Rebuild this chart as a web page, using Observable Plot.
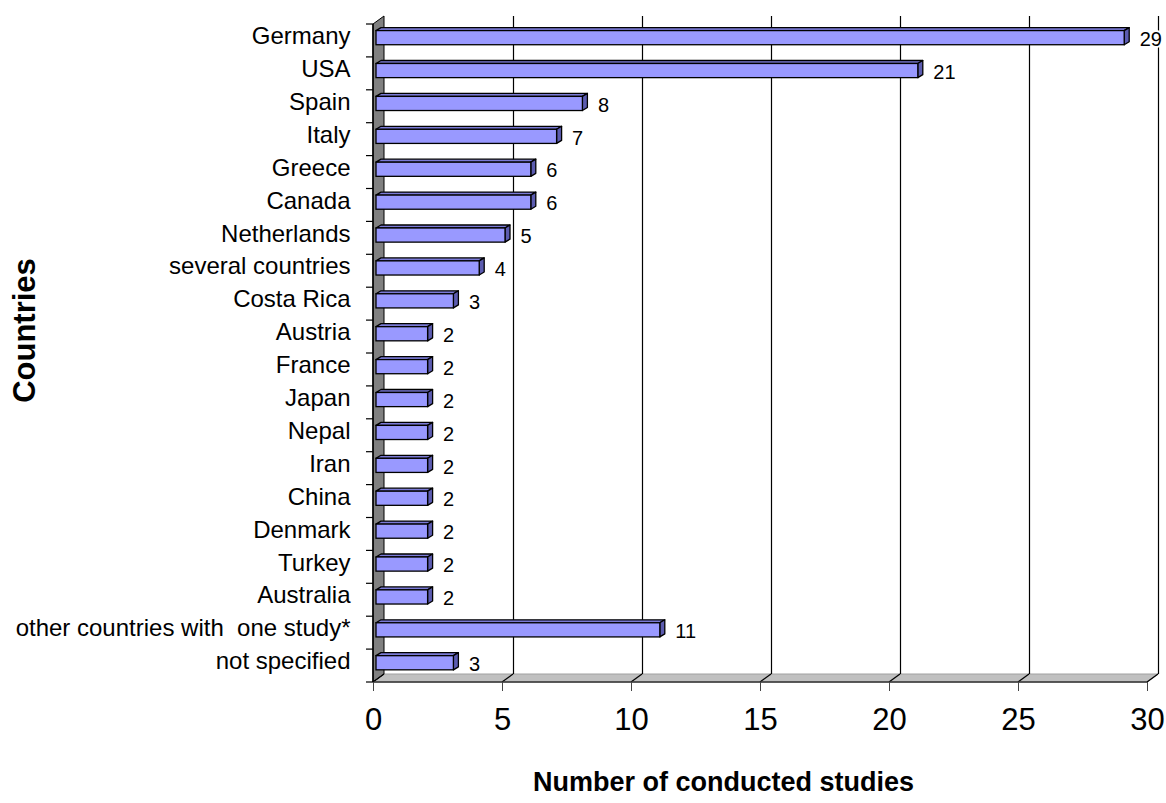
<!DOCTYPE html>
<html>
<head>
<meta charset="utf-8">
<script src="https://cdn.jsdelivr.net/npm/d3@7"></script>
<script src="https://cdn.jsdelivr.net/npm/@observablehq/plot@0.6"></script>
<style>
  html, body { margin: 0; padding: 0; background: #fff; }
  svg text { white-space: pre; }
</style>
</head>
<body>
<div id="chart"></div>
<script>
const countries = ["Germany","USA","Spain","Italy","Greece","Canada","Netherlands","several countries","Costa Rica","Austria","France","Japan","Nepal","Iran","China","Denmark","Turkey","Australia","other countries with  one study*","not specified"];
const studies = [29,21,8,7,6,6,5,4,3,2,2,2,2,2,2,2,2,2,11,3];
const xTicks = [0,5,10,15,20,25,30];
const xTitle = "Number of conducted studies";
const yTitle = "Countries";

const data = countries.map((c, i) => ({country: c, value: studies[i]}));

const FONT = "'Liberation Sans', Arial, Helvetica, sans-serif";
const WALL = {ox: 11, oy: -8};
const BAR = {ox: 5, oy: -3, shift: 3};

function walls(index, scales, values, dims) {
  const {x, y} = scales;
  const {height, marginTop, marginBottom} = dims;
  const X0 = x(0), X1 = x(xTicks[xTicks.length - 1]);
  const Yt = marginTop, Yb = height - marginBottom;
  const {ox, oy} = WALL;
  const g = d3.create("svg:g");
  // floor
  g.append("polygon")
    .attr("points", [[X0, Yb], [X1, Yb], [X1 + ox, Yb + oy], [X0 + ox, Yb + oy]].join(" "))
    .attr("fill", "#c0c0c0").attr("stroke", "#a0a0a0").attr("stroke-width", 1);
  // left wall
  g.append("polygon")
    .attr("points", [[X0, Yt], [X0 + ox, Yt + oy], [X0 + ox, Yb + oy], [X0, Yb]].join(" "))
    .attr("fill", "#808080").attr("stroke", "#000").attr("stroke-width", 1);
  // floor diagonals
  for (const t of xTicks) {
    g.append("line")
      .attr("x1", x(t)).attr("y1", Yb).attr("x2", x(t) + ox).attr("y2", Yb + oy)
      .attr("stroke", "#000").attr("stroke-width", 1.2);
  }
  // axis lines
  g.append("line").attr("x1", X0).attr("x2", X1).attr("y1", Yb).attr("y2", Yb)
    .attr("stroke", "#333").attr("stroke-width", 1.5);
  g.append("line").attr("x1", X0).attr("x2", X0).attr("y1", Yt).attr("y2", Yb)
    .attr("stroke", "#000").attr("stroke-width", 1.5);
  // y ticks at band boundaries
  const bw = y.bandwidth();
  const dom = y.domain();
  const bounds = dom.map(d => y(d)).concat([y(dom[dom.length - 1]) + bw]);
  for (const b of bounds) {
    g.append("line").attr("x1", X0 - 7).attr("x2", X0).attr("y1", b).attr("y2", b)
      .attr("stroke", "#000").attr("stroke-width", 1.2);
  }
  return g.node();
}

function bars3d(index, scales) {
  const {x, y} = scales;
  const bw = y.bandwidth();
  const {ox, oy, shift} = BAR;
  const g = d3.create("svg:g");
  for (const i of index) {
    const d = data[i];
    const y0 = y(d.country);
    const xa = x(0) + shift, xb = x(d.value) + shift;
    const ft = y0 + 0.2 * bw, fb = y0 + 0.63 * bw;
    g.append("polygon")
      .attr("points", [[xa, ft], [xb, ft], [xb + ox, ft + oy], [xa + ox, ft + oy]].join(" "))
      .attr("fill", "#7a7ad6").attr("stroke", "#000").attr("stroke-width", 1.3).attr("stroke-linejoin", "round");
    g.append("polygon")
      .attr("points", [[xb, ft], [xb + ox, ft + oy], [xb + ox, fb + oy], [xb, fb]].join(" "))
      .attr("fill", "#5c5cb0").attr("stroke", "#000").attr("stroke-width", 1.3).attr("stroke-linejoin", "round");
    g.append("rect")
      .attr("x", xa).attr("y", ft).attr("width", xb - xa).attr("height", fb - ft)
      .attr("fill", "#9999ff").attr("stroke", "#000").attr("stroke-width", 1.3);
  }
  return g.node();
}

const chart = Plot.plot({
  width: 1166,
  height: 803,
  marginLeft: 373,
  marginRight: 19,
  marginTop: 24,
  marginBottom: 121,
  style: {fontFamily: FONT, background: "#fff", color: "#000", overflow: "visible"},
  x: {domain: [0, 30], axis: null},
  y: {domain: countries, padding: 0, round: false, axis: null},
  marks: [
    walls,
    Plot.ruleX(xTicks.slice(1), {dx: WALL.ox, dy: WALL.oy, stroke: "#000", strokeWidth: 1.2}),
    Plot.barX(data, {x: "value", y: "country", render: bars3d}),
    Plot.text(data, {x: "value", y: "country", text: d => String(d.value), dx: 18, dy: -1.5,
      textAnchor: "start", fontSize: 20, fill: "#000", stroke: "#fff", strokeWidth: 4, paintOrder: "stroke"}),
    Plot.text(data, {x: () => 0, y: "country", text: "country", dx: -23, dy: -4.5,
      textAnchor: "end", fontSize: 24, fill: "#000"}),
    Plot.axisX({ticks: xTicks, tickSize: 9, tickPadding: 16, fontSize: 31, stroke: "#444", label: null, tickFormat: d => String(d)}),
    Plot.text([xTitle], {frameAnchor: "bottom", text: d => d, dx: -37, dy: 108, fontSize: 27, fontWeight: "bold", fill: "#000"}),
    Plot.text([yTitle], {frameAnchor: "left", text: d => d, rotate: -90, textAnchor: "middle", dx: -348, dy: -23, fontSize: 31, fontWeight: "bold", fill: "#000"})
  ]
});

document.getElementById("chart").appendChild(chart);
</script>
</body>
</html>
